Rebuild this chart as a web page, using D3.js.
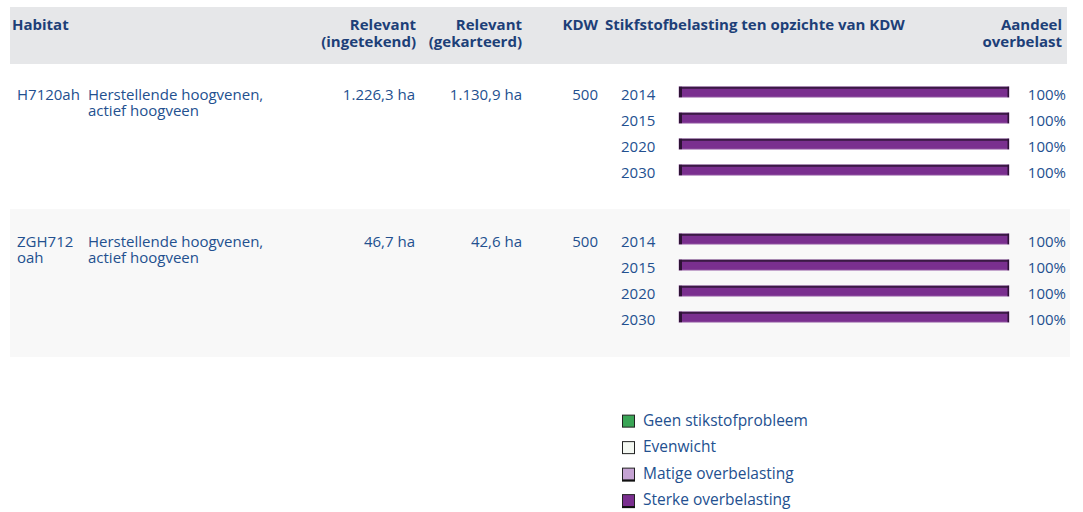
<!DOCTYPE html>
<html>
<head>
<meta charset="utf-8">
<script src="https://cdn.jsdelivr.net/npm/d3@7"></script>
<style>
  html, body { margin: 0; padding: 0; background: #ffffff; }
  svg { display: block; }
  text { font-family: "Open Sans", "Noto Sans", sans-serif; }
</style>
</head>
<body>
<svg id="chart" width="1083" height="512"></svg>
<script>
// Habitat rows
const habitatCodes = [["H7120ah"], ["ZGH712", "oah"]];
const habitatNames = [["Herstellende hoogvenen,", "actief hoogveen"], ["Herstellende hoogvenen,", "actief hoogveen"]];
const relevantIngetekend = ["1.226,3 ha", "46,7 ha"];
const relevantGekarteerd = ["1.130,9 ha", "42,6 ha"];
const kdw = [500, 500];
const years = ["2014", "2015", "2020", "2030"];

// share of area per load class, per habitat and year (percent)
const geenProbleem = [[0, 0, 0, 0], [0, 0, 0, 0]];
const evenwicht = [[0, 0, 0, 0], [0, 0, 0, 0]];
const matig = [[0, 0, 0, 0], [0, 0, 0, 0]];
const sterk = [[100, 100, 100, 100], [100, 100, 100, 100]];
const overbelast = [[100, 100, 100, 100], [100, 100, 100, 100]];

const classNames = ["Geen stikstofprobleem", "Evenwicht", "Matige overbelasting", "Sterke overbelasting"];
const classColors = ["#3aa556", "#f4f8f2", "#c5a3d3", "#7a2f8f"];

const svg = d3.select("#chart");
const textBlue = "#23508f";
const headBlue = "#1d3f78";

// header band
svg.append("rect").attr("x", 10).attr("y", 7).attr("width", 1057).attr("height", 57).attr("fill", "#e6e7e9");
// second row background
svg.append("rect").attr("x", 10).attr("y", 209).attr("width", 1060).attr("height", 148).attr("fill", "#f8f8f8");

const head = svg.append("g").attr("font-size", 15).attr("font-weight", 700).attr("fill", headBlue);
function headText(x, lines, anchor) {
  lines.forEach((l, i) => head.append("text").attr("x", x).attr("y", 30 + i * 17)
    .attr("text-anchor", anchor).text(l));
}
headText(12, ["Habitat"], "start");
headText(416, ["Relevant", "(ingetekend)"], "end");
headText(522, ["Relevant", "(gekarteerd)"], "end");
headText(598, ["KDW"], "end");
headText(605, ["Stikfstofbelasting ten opzichte van KDW"], "start");
headText(1062, ["Aandeel", "overbelast"], "end");

// layout scales
const groupY = d3.scaleOrdinal().domain([0, 1]).range([79, 226]);
const yearY = d3.scaleBand().domain(years).range([0, 104]).paddingInner(0.6).paddingOuter(0.3);
const x = d3.scaleLinear().domain([0, 100]).range([679, 1009]);

function lines(sel, xPos, yPos, arr, anchor) {
  arr.forEach((l, i) => sel.append("text").attr("x", xPos).attr("y", yPos + i * 16)
    .attr("text-anchor", anchor || "start").text(l));
}

habitatCodes.forEach((code, h) => {
  const g = svg.append("g").attr("transform", `translate(0,${groupY(h)})`);
  const body = g.append("g").attr("font-size", 15).attr("fill", textBlue);
  lines(body, 17, 21, code);
  lines(body, 88, 21, habitatNames[h]);
  lines(body, 415, 21, [relevantIngetekend[h]], "end");
  lines(body, 522, 21, [relevantGekarteerd[h]], "end");
  lines(body, 598, 21, [String(kdw[h])], "end");

  years.forEach((yr, i) => {
    const yy = yearY(yr);
    const bh = yearY.bandwidth();
    body.append("text").attr("x", 621).attr("y", yy + bh / 2 + 8).text(yr);
    body.append("text").attr("x", 1066).attr("y", yy + bh / 2 + 8).attr("text-anchor", "end").text(overbelast[h][i] + "%");

    const parts = [geenProbleem[h][i], evenwicht[h][i], matig[h][i], sterk[h][i]];
    let acc = 0;
    parts.forEach((v, c) => {
      if (v <= 0) { return; }
      const x0 = x(acc), x1 = x(acc + v);
      acc += v;
      const bar = g.append("g");
      bar.append("rect").attr("x", x0).attr("y", yy).attr("width", x1 - x0).attr("height", bh)
        .attr("fill", classColors[c]).attr("stroke", "#b28bbd").attr("stroke-width", 0.8);
      // shadowed top and left edge
      bar.append("rect").attr("x", x0).attr("y", yy).attr("width", x1 - x0).attr("height", 2).attr("fill", "#3b1a45");
      bar.append("rect").attr("x", x0).attr("y", yy).attr("width", 3).attr("height", bh).attr("fill", "#2e1236");
      bar.append("rect").attr("x", x1 - 1.5).attr("y", yy).attr("width", 1.5).attr("height", bh).attr("fill", "#2e1236");
    });
  });
});

// legend
const legendY = d3.scaleBand().domain(classNames).range([408, 514]).paddingInner(0.5).paddingOuter(0.25);
const legend = svg.append("g").attr("font-size", 15.5).attr("fill", textBlue);
classNames.forEach((n, i) => {
  const yy = legendY(n);
  const s = 12;
  legend.append("rect").attr("x", 622.5).attr("y", yy + 0.5).attr("width", s).attr("height", s)
    .attr("fill", classColors[i]).attr("stroke", "#222").attr("stroke-width", 1);
  if (i >= 2) {
    legend.append("rect").attr("x", 622).attr("y", yy + s).attr("width", s + 1).attr("height", 2).attr("fill", "#111");
  }
  legend.append("text").attr("x", 643).attr("y", yy + 11).text(n);
});
</script>
</body>
</html>
